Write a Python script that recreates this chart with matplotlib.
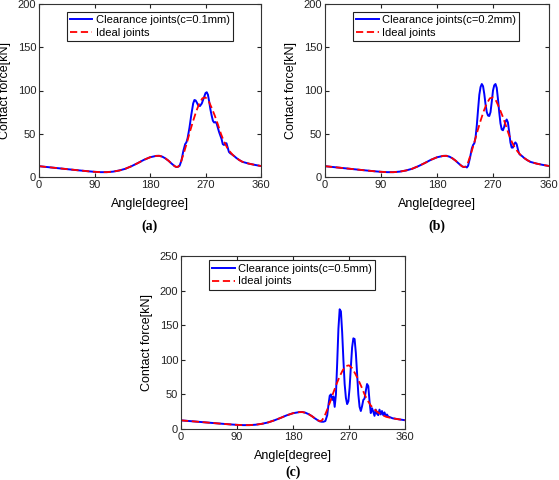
import matplotlib
matplotlib.use("Agg")
import matplotlib.pyplot as plt

plt.rcParams['font.family'] = ['Liberation Sans', 'DejaVu Sans']

# ideal joints (same in all three panels)
ang_ideal = [0, 20, 40, 60, 80, 90, 100, 110, 120, 130, 140, 150, 160, 170, 180,
             190, 195, 200, 205, 210, 215, 220, 223, 226, 230, 235, 240, 245, 250,
             255, 260, 265, 270, 275, 280, 285, 290, 295, 300, 305, 310, 315, 320,
             325, 330, 340, 350, 360]
f_ideal = [12.5, 11, 9.5, 8, 6.6, 6, 5.6, 5.6, 6.2, 7.5, 9.5, 12.5, 16, 19.8, 22.8,
           24.4, 24.5, 23.5, 21.5, 18.8, 15.5, 12.5, 11.5, 12, 17, 28, 40, 53, 65,
           76, 85, 91, 92, 88, 80, 71, 61, 50, 41, 34, 29, 25, 22,
           19.5, 17.5, 15.5, 14, 12.7]

# clearance c=0.1mm (after 226 deg, before that same as ideal)
ang_a = [228, 231, 234, 237, 239, 241, 244, 247, 250, 252, 254, 256, 258, 261, 264,
         267, 270, 272, 274, 276, 278, 280, 282, 284, 286, 288, 290, 292, 294, 296,
         298, 300, 302, 304, 306, 308, 310, 313, 316, 320, 325, 330, 340, 350, 360]
f_a = [13, 19, 30, 38, 40, 45, 57, 72, 85, 89, 88.5, 86, 83, 82, 85,
       91, 97, 98, 95, 87, 78, 71, 65, 63, 63.5, 62, 57, 52, 48, 44,
       38, 37, 39, 39, 34, 29, 27.5, 26, 24.5, 22, 19.5, 17.5, 15.5, 14, 12.7]

# clearance c=0.2mm
ang_b = [228, 230, 233, 236, 238, 240, 242, 244, 246, 248, 250, 252, 254, 256, 258,
         260, 262, 264, 266, 268, 270, 272, 274, 276, 278, 280, 282, 284, 286, 288,
         290, 292, 294, 296, 298, 300, 302, 304, 306, 308, 310, 312, 314, 317, 320,
         325, 330, 340, 350, 360]
f_b = [11, 13, 22, 33, 37, 39, 46, 60, 78, 95, 104, 107.5, 105, 96, 84,
       75, 71, 70.5, 75, 87, 100, 106, 107.5, 103, 90, 75, 62, 55, 54, 58,
       64, 66.5, 63, 52, 40, 34, 34, 38, 40, 38, 32, 27, 25.5, 24, 22,
       19.5, 17.5, 15.5, 14, 12.7]

# clearance c=0.5mm (after 220 deg)
ang_c = [223, 226, 229, 232, 235, 237, 239, 241, 243, 245, 247, 249, 251, 253, 255,
         257, 259, 261, 263, 265, 267, 269, 271, 273, 275, 277, 279, 281, 283, 285,
         287, 289, 291, 293, 295, 297, 299, 301, 303, 305, 307, 309, 311, 313, 315,
         317, 319, 321, 323, 325, 327, 329, 331, 333, 336, 340, 350, 360]
f_c = [11, 10.5, 10.5, 11.5, 20, 35, 48, 50, 42, 47, 32, 50, 95, 145, 173,
       170, 140, 100, 65, 45, 36, 40, 60, 90, 118, 131, 130, 110, 80, 50,
       32, 26, 33, 42, 44, 55, 65, 62, 40, 23, 30, 25, 19, 28, 22,
       20, 28, 21, 26, 20, 24, 19, 21, 18, 17, 15.5, 14, 12.7]

labels = ["Clearance joints(c=0.1mm)", "Clearance joints(c=0.2mm)", "Clearance joints(c=0.5mm)"]
letters = ["(a)", "(b)", "(c)"]

clear_x = [ang_ideal[:24] + ang_a, ang_ideal[:24] + ang_b, ang_ideal[:22] + ang_c]
clear_y = [f_ideal[:24] + f_a, f_ideal[:24] + f_b, f_ideal[:22] + f_c]
ymax = [200, 200, 250]

W, H = 559.0, 480.0
# axes boxes in pixels: left, top, right, bottom
boxes = [(39, 4, 261, 177), (325, 4, 549, 177), (181, 256, 405, 429)]
leg_top = [0.955, 0.955, 0.975]

fig = plt.figure(figsize=(5.59, 4.8), dpi=100)
for i in range(3):
    l, t, r, b = boxes[i]
    ax = fig.add_axes([l / W, 1 - b / H, (r - l) / W, (b - t) / H])
    ax.plot(clear_x[i], clear_y[i], color='#0000ff', lw=1.4, label=labels[i])
    ax.plot(ang_ideal, f_ideal, color='#ff0000', lw=1.3, ls=(0, (4, 2)), label="Ideal joints")
    ax.set_xlim(0, 360)
    ax.set_ylim(0, ymax[i])
    ax.set_xticks([0, 90, 180, 270, 360])
    ax.set_yticks(range(0, ymax[i] + 1, 50))
    ax.tick_params(direction='in', length=3, top=True, right=True, labelsize=8,
                   colors='#222222', pad=2)
    for s in ax.spines.values():
        s.set_color('#333333')
        s.set_linewidth(0.8)
    ax.set_xlabel("Angle[degree]", fontsize=9)
    ax.set_ylabel("Contact force[kN]", fontsize=9)
    ax.xaxis.set_label_coords(0.5, -0.12)
    ax.yaxis.set_label_coords(-0.125, 0.5)
    leg = ax.legend(loc='upper left', bbox_to_anchor=(0.125, leg_top[i]), fontsize=8,
                    fancybox=False, framealpha=1, edgecolor='#222222',
                    borderpad=0.3, labelspacing=0.25, handlelength=2.0,
                    handletextpad=0.3, borderaxespad=0)
    leg.get_frame().set_linewidth(0.8)
    cx = (l + r) / 2.0
    cy = b + (49 if i < 2 else 43)
    fig.text(cx / W, 1 - cy / H, letters[i], ha='center', va='center',
             fontsize=10, fontweight='bold', family='Liberation Serif')

plt.savefig("out.png", dpi=100)
